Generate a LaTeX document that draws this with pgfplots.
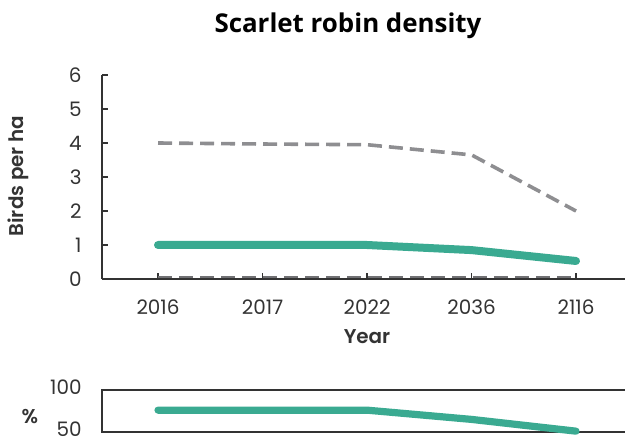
\documentclass[border=0pt]{standalone}
\usepackage{fontspec}
\setmainfont{Poppins}
\newfontfamily\titlefont{Open Sans}
\newfontfamily\psemi{Poppins SemiBold}
\usepackage{pgfplots}
\pgfplotsset{compat=1.18}
\definecolor{teal1}{HTML}{3AAA91}
\definecolor{dgray}{HTML}{8E8E91}
\definecolor{axc}{HTML}{333333}
\begin{document}
\begin{tikzpicture}
\useasboundingbox (0,0) rectangle (312.5bp,221.5bp);
\clip (0,0) rectangle (312.5bp,221.5bp);
\node[anchor=base, font=\titlefont\bfseries\fontsize{13}{15}\selectfont] at (174bp,205bp) {Scarlet robin density};
\begin{axis}[
 at={(51bp,82bp)}, anchor=south west,
 x=52.25bp, y=17bp,
 xmin=-0.536, xmax=4.8, ymin=0, ymax=6,
 axis x line*=bottom, axis y line*=left,
 xtick={0,...,4}, xticklabels={2016,2017,2022,2036,2116},
 ytick={0,...,6},
 tick align=inside, major tick length=3bp,
 tick style={axc, line width=0.8bp},
 axis line style={-, axc, line width=1bp},
 ticklabel style={font=\fontsize{10}{12}\selectfont, text=axc},
 yticklabel style={anchor=east, inner sep=0pt, xshift=-10bp},
 xticklabel style={anchor=north, inner sep=0pt, yshift=-10bp},
 /pgf/number format/assume math mode=true,
 clip=false,
]
\addplot[dgray, line width=1.8bp, dash pattern=on 7bp off 3.5bp] coordinates {(0,4) (1,3.97) (2,3.95) (3,3.65) (4,2.0)};
\addplot[dgray!80!black, line width=1.3bp, dash pattern=on 7bp off 3.5bp] coordinates {(0,0.06) (1,0.06) (2,0.06) (3,0.06) (4,0.06)};
\addplot[teal1, line width=4bp, line cap=round, line join=round] coordinates {(0,1) (1,1) (2,1) (3,0.85) (4,0.53)};
\node[anchor=base, font=\psemi\fontsize{10}{12}\selectfont, text=axc] at (axis cs:2,0) [yshift=-32bp] {Year};
\end{axis}
\begin{axis}[
 at={(51bp,5.5bp)}, anchor=south west,
 x=52.25bp, y=0.42bp,
 xmin=-0.536, xmax=4.8, ymin=50, ymax=100,
 xtick=\empty, ytick={50,100},
 major tick length=0pt,
 axis line style={axc, line width=0.7bp},
 ticklabel style={font=\fontsize{10}{12}\selectfont, text=axc},
 yticklabel style={anchor=east, inner sep=0pt, xshift=-10bp, yshift=1.5bp},
 /pgf/number format/assume math mode=true,
 clip=false,
]
\addplot[teal1, line width=3.6bp, line cap=round, line join=round] coordinates {(0,76) (1,76) (2,76) (3,65) (4,51)};
\end{axis}
\node[anchor=center, font=\psemi\fontsize{10}{12}\selectfont, text=axc] at (15bp,13bp) {\%};
\node[rotate=90, anchor=center, font=\psemi\fontsize{10}{12}\selectfont, text=axc] at (9bp,133.5bp) {Birds per ha};
\end{tikzpicture}
\end{document}
